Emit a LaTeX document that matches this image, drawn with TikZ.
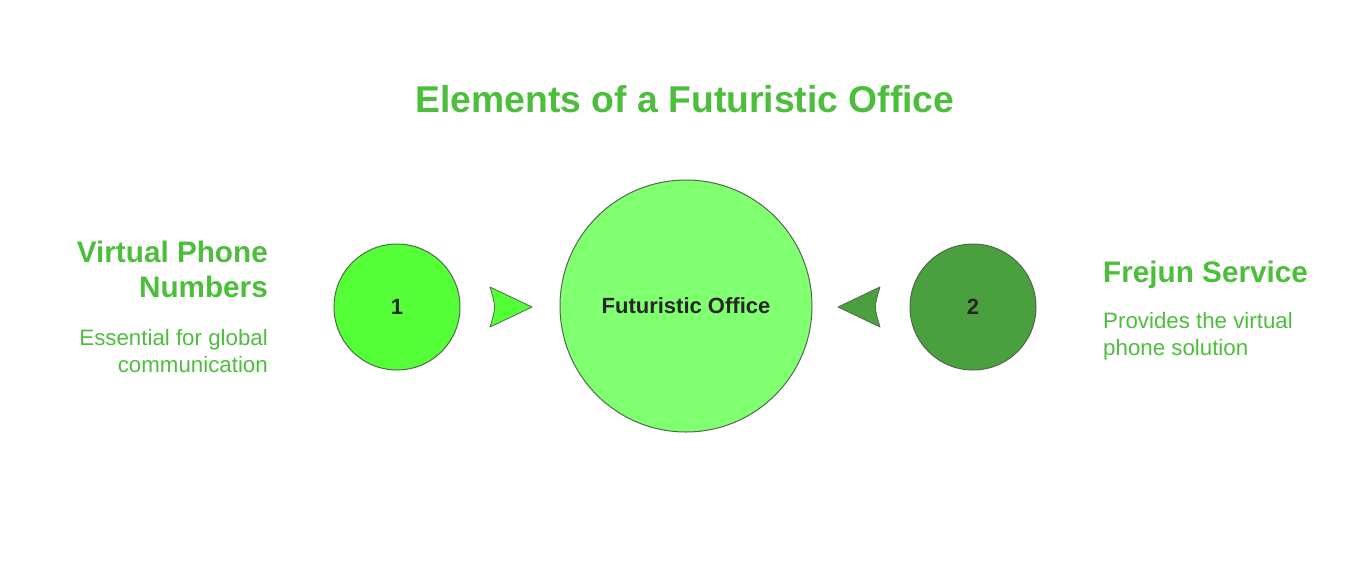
\documentclass[tikz,border=0pt]{standalone}
\usepackage{fontspec}
\setmainfont{Liberation Sans}
\usepackage{tikz}
\usetikzlibrary{positioning,calc}
\definecolor{leafgreen}{RGB}{77,190,60}
\definecolor{limefill}{RGB}{85,255,56}
\definecolor{palefill}{RGB}{128,255,112}
\definecolor{darkfill}{RGB}{74,159,62}
\definecolor{rimgray}{RGB}{82,104,78}
\definecolor{inkgray}{RGB}{38,38,38}

\begin{document}
\begin{tikzpicture}[
  x=1pt, y=-1pt,
  every node/.style={inner sep=0pt},
  title/.style={font=\bfseries\fontsize{37.3}{42}\selectfont, text=leafgreen},
  heading/.style={font=\bfseries\fontsize{29.7}{35}\selectfont, text=leafgreen},
  desc/.style={font=\fontsize{22.3}{27}\selectfont, text=leafgreen},
  bubble/.style={circle, draw=rimgray, line width=1pt, minimum size=126pt,
    font=\bfseries\fontsize{22}{26}\selectfont, text=inkgray},
  hub/.style={bubble, minimum size=252pt, fill=palefill},
  pointer/.style={draw=rimgray, line width=0.8pt, line join=round}
]
  \useasboundingbox (0,0) rectangle (1371,579);

  \node[title, anchor=base] (title) at (685,112) {Elements of a Futuristic Office};

  \node[hub] (office) at (686,306) {Futuristic Office};
  \node[bubble, fill=limefill] (one) at (397,307) {1};
  \node[bubble, fill=darkfill] (two) at (973,307) {2};

  % two-line blocks sit on the baseline of their last line
  \node[heading, anchor=base east, align=right] (vpn) at (268,297) {Virtual Phone\\Numbers};
  \node[desc, anchor=base east, align=right] (vpndesc) at (268,372) {Essential for global\\communication};

  \node[heading, anchor=base west, align=left] (frejun) at (1103,282) {Frejun Service};
  \node[desc, anchor=base west, align=left] (frejundesc) at (1103,355) {Provides the virtual\\phone solution};

  % pointers between the bubbles and the hub
  \coordinate (ltip) at (532,307);
  \coordinate (rtip) at (838,307);
  \draw[pointer, fill=limefill] (490,287) .. controls (496,307) .. (490,327) -- (ltip) -- cycle;
  \draw[pointer, fill=darkfill] (880,287) .. controls (874,307) .. (880,327) -- (rtip) -- cycle;
\end{tikzpicture}
\end{document}
